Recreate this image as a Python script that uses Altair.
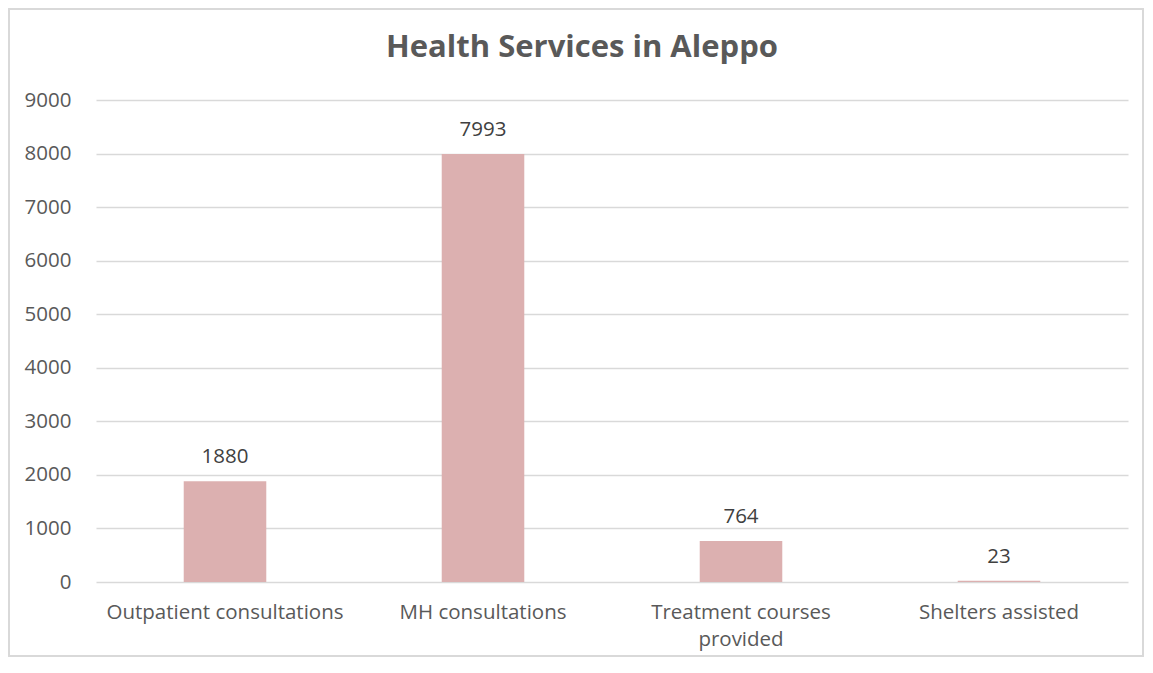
import altair as alt
import pandas as pd

categories = ["Outpatient consultations", "MH consultations", "Treatment courses provided", "Shelters assisted"]
values = [1880, 7993, 764, 23]
y_ticks = [0, 1000, 2000, 3000, 4000, 5000, 6000, 7000, 8000, 9000]
chart_title = "Health Services in Aleppo"

df = pd.DataFrame({"category": categories, "value": values})

FONT = "Open Sans"

x = alt.X(
    "category:N",
    sort=categories,
    title=None,
    scale=alt.Scale(paddingInner=0.68, paddingOuter=0.34),
    axis=alt.Axis(
        labelAngle=0,
        labelFont=FONT,
        labelFontSize=20.5,
        labelColor="#595959",
        labelPadding=20,
        labelLimit=400,
        ticks=False,
        domain=False,
        labelExpr="datum.label == 'Treatment courses provided' ? ['Treatment courses', 'provided'] : datum.label",
        labelLineHeight=27,
    ),
)

y = alt.Y(
    "value:Q",
    title=None,
    scale=alt.Scale(domain=[0, 9000], nice=False),
    axis=alt.Axis(
        values=y_ticks,
        format="d",
        labelFont=FONT,
        labelFontSize=20.5,
        labelColor="#595959",
        labelPadding=25,
        ticks=False,
        domain=False,
        gridColor="#d9d9d9",
        gridWidth=1.3,
    ),
)

base = alt.Chart(df)

bars = base.mark_bar(color="#dcb0b0").encode(x=x, y=y)

labels = base.mark_text(
    baseline="bottom", dy=-14, font=FONT, fontSize=20.5, color="#404040"
).encode(x=x, y=y, text="value:Q")

frame = base.mark_rect(fill=None, stroke="#d9d9d9", strokeWidth=1.3).encode(
    x=alt.value(-87), x2=alt.value(1047), y=alt.value(-91), y2=alt.value(556)
)

title = alt.Chart(pd.DataFrame({"t": [chart_title]})).mark_text(
    font=FONT, fontSize=31, fontWeight="bold", color="#595959",
    align="center", baseline="alphabetic",
).encode(x=alt.value(486), y=alt.value(-43), text="t:N")

chart = (
    alt.layer(frame, bars, labels, title)
    .properties(
        width=1032,
        height=482,
        autosize=alt.AutoSizeParams(type="none"),
        padding={"left": 88, "top": 92, "right": 17, "bottom": 80},
    )
    .configure_view(stroke=None)
)

chart.save("out.html", embed_options={"renderer": "svg", "actions": False})
